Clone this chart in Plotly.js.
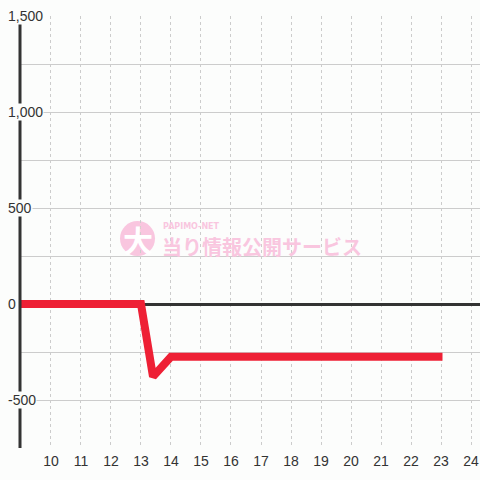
<!DOCTYPE html>
<html>
<head>
<meta charset="utf-8">
<script src="https://cdn.plot.ly/plotly-3.0.1.min.js"></script>
<style>html,body{margin:0;padding:0;background:#fcfdfc;}#chart{width:480px;height:480px;}</style>
</head>
<body>
<div id="chart"></div>
<script>
// Data
const hours = [8.87, 13.0, 13.4, 14.0, 23.05];
const values = [0, 0, -378, -275, -275];
const xTicks = [10, 11, 12, 13, 14, 15, 16, 17, 18, 19, 20, 21, 22, 23, 24];
const yGrid = [-750, -500, -250, 0, 250, 500, 750, 1000, 1250, 1500];
const yLabelVals = [1500, 1000, 500, 0, -500];
const yLabelText = ["1,500", "1,000", "500", "0", "-500"];

const bg = '#fcfdfc';
const font = {family: 'Liberation Sans, Arial, sans-serif', size: 14, color: '#333333'};

const trace = {
  x: hours, y: values, type: 'scatter', mode: 'lines',
  line: {color: '#ee2035', width: 8},
  cliponaxis: false, hoverinfo: 'skip'
};

const annotations = yLabelVals.map((v, i) => ({
  xref: 'paper', yref: 'y', x: 0, y: v, xshift: -13,
  xanchor: 'left', yanchor: 'middle', text: yLabelText[i],
  showarrow: false, font: font, bgcolor: bg, borderpad: 0
}));
// watermark
annotations.push({xref:'paper', yref:'paper', x:(137.5-20)/460, y:(448-238.5)/432,
  text:'<b>大</b>', showarrow:false, font:{family:'Noto Sans CJK JP', size:30, color:'#ffffff'},
  xanchor:'center', yanchor:'middle'});
annotations.push({xref:'paper', yref:'paper', x:(161-20)/460, y:(448-226)/432,
  text:'<b>PAPIMO-NET</b>', showarrow:false, font:{family:'DejaVu Sans', size:8, color:'#f9c6df'},
  xanchor:'left', yanchor:'middle'});
annotations.push({xref:'paper', yref:'paper', x:(160-20)/460, y:(448-246)/432,
  text:'<b>当り情報公開サービス</b>', showarrow:false, font:{family:'Noto Sans CJK JP', size:20, color:'#f9c6df'},
  xanchor:'left', yanchor:'middle'});

const layout = {
  width: 480, height: 480,
  margin: {l: 20, r: 0, t: 16, b: 32},
  paper_bgcolor: bg, plot_bgcolor: bg,
  showlegend: false,
  font: font,
  xaxis: {
    range: [8.967, 24.3], tickvals: xTicks, ticktext: xTicks.map(String),
    showgrid: true, gridcolor: '#cccccc', griddash: 'dot', gridwidth: 1,
    zeroline: false, showline: false, ticks: '', tickfont: font, fixedrange: true,
    ticklabelstandoff: 3
  },
  yaxis: {
    range: [-750, 1500], tickvals: yGrid, showticklabels: false,
    showgrid: true, gridcolor: '#cccccc', gridwidth: 1,
    zeroline: true, zerolinecolor: '#333333', zerolinewidth: 3,
    showline: false, ticks: '', fixedrange: true
  },
  shapes: [
    {type:'circle', xref:'paper', yref:'paper', layer:'below',
     x0:(120-20)/460, x1:(155-20)/460, y0:(448-256)/432, y1:(448-221)/432,
     fillcolor:'#f9c6df', line:{width:0}},
    {type:'line', xref:'paper', yref:'paper', x0:0, x1:0, y0:0, y1:(448-24)/432,
     line:{color:'#333333', width:3}, layer:'above'}
  ],
  annotations: annotations
};

Plotly.newPlot('chart', [trace], layout, {displayModeBar: false, staticPlot: true});
</script>
</body>
</html>
